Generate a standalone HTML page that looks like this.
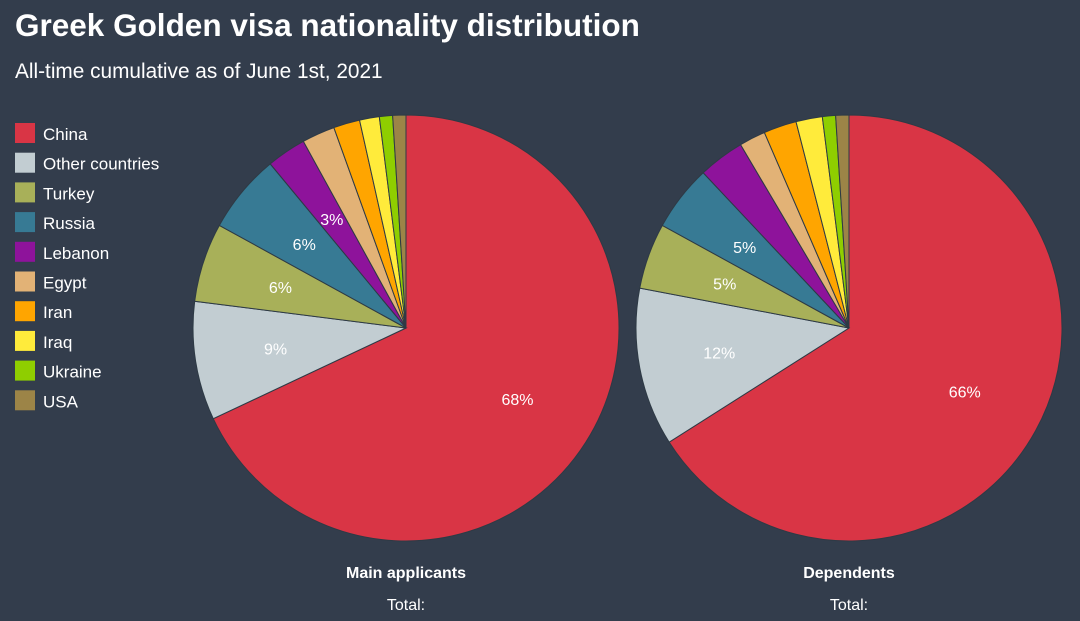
<!DOCTYPE html>
<html><head><meta charset="utf-8">
<style>
html,body{margin:0;padding:0;background:#333d4c;}
body{width:1080px;height:621px;position:relative;overflow:hidden;font-family:"Liberation Sans",sans-serif;color:#fff;}
#title{position:absolute;left:15px;top:7px;font-size:31.5px;font-weight:bold;}
#subtitle{position:absolute;left:15px;top:60px;font-size:20.8px;}
svg{position:absolute;left:0;top:0;}
</style></head>
<body>
<div id="title">Greek Golden visa nationality distribution</div>
<div id="subtitle">All-time cumulative as of June 1st, 2021</div>
<svg id="chart" width="1080" height="621"></svg>
<script>
const categories = ["China","Other countries","Turkey","Russia","Lebanon","Egypt","Iran","Iraq","Ukraine","USA"];
const colors = ["#d93545","#c2cdd2","#a8b059","#377a94","#8e139b","#e2b276","#ffa500","#ffeb3b","#8fce00","#9c8447"];
const mainValues = [68,9,6,6,3,2.5,2,1.5,1,1];
const mainLabels = ["68%","9%","6%","6%","3%","","","","",""];
const depValues = [66,12,5,5,3.5,2,2.5,2,1,1];
const depLabels = ["66%","12%","5%","5%","","","","","",""];
const chartTitles = ["Main applicants","Dependents"];

const NS="http://www.w3.org/2000/svg";
const svg=document.getElementById('chart');
function mk(tag,attrs){const e=document.createElementNS(NS,tag);for(const k in attrs)e.setAttribute(k,attrs[k]);svg.appendChild(e);return e;}

categories.forEach((c,i)=>{
  const y=123+i*29.7;
  const r=mk('rect',{x:15,y:y,width:20,height:20,fill:colors[i]});
  
  
  const t=mk('text',{x:43,y:y+17,fill:'#fff','font-size':17});
  t.textContent=c;
  
  
});

function pie(cx,cy,R,values,labels,name){
  const total=values.reduce((a,b)=>a+b,0);
  let a0=0;
  values.forEach((v,i)=>{
    const a1=a0+v/total*2*Math.PI;
    const x0=cx+R*Math.sin(a0),y0=cy-R*Math.cos(a0);
    const x1=cx+R*Math.sin(a1),y1=cy-R*Math.cos(a1);
    const large=(a1-a0)>Math.PI?1:0;
    const p=mk('path',{d:`M${cx},${cy}L${x0},${y0}A${R},${R} 0 ${large} 1 ${x1},${y1}Z`,fill:colors[i],stroke:'#2e3a45','stroke-width':1});
    
    
    if(labels[i]){
      const am=(a0+a1)/2, rr=R*0.62;
      const t=mk('text',{x:cx+rr*Math.sin(am),y:cy-rr*Math.cos(am)+6,fill:'#fff','font-size':16,'text-anchor':'middle'});
      t.textContent=labels[i];
      
      
    }
    a0=a1;
  });
}
pie(406,328,213,mainValues,mainLabels,'main-applicants');
pie(849,328,213,depValues,depLabels,'dependents');

[[406,chartTitles[0],'main-applicants'],[849,chartTitles[1],'dependents']].forEach(([x,title,n])=>{
  const t=mk('text',{x:x,y:578,fill:'#fff','font-size':16,'font-weight':'bold','text-anchor':'middle'});
  t.textContent=title;
  
  
  const t2=mk('text',{x:x,y:610,fill:'#fff','font-size':16,'text-anchor':'middle'});
  t2.textContent='Total:';
  
  
});
</script>
</body></html>
